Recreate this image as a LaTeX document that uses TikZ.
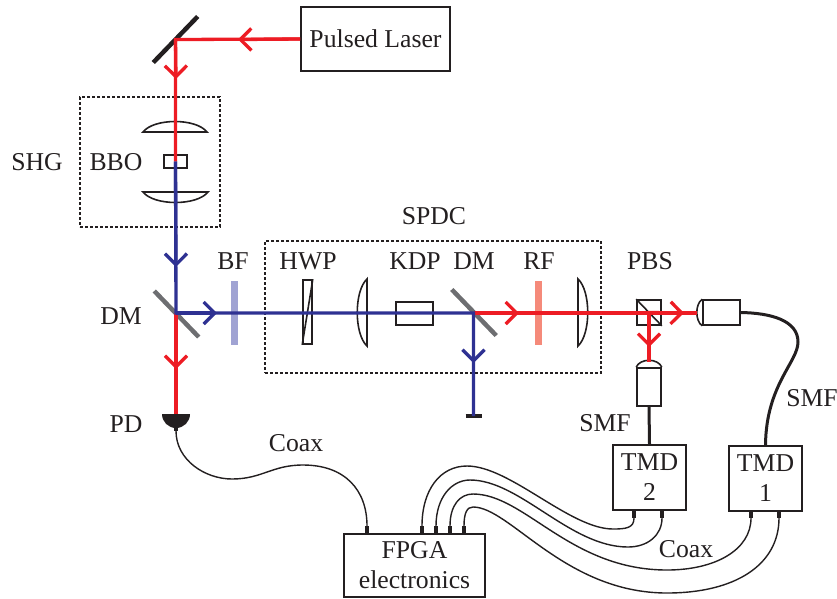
\documentclass[tikz,border=0pt]{standalone}
\usepackage{fontspec}
\setmainfont{Liberation Serif}
\usepackage{xcolor}
\usepackage{tikz}
\usetikzlibrary{arrows.meta, positioning}
\definecolor{redbeam}{RGB}{237,28,36}
\definecolor{bluebeam}{RGB}{46,49,146}
\definecolor{mirrorgrey}{RGB}{109,110,113}
\definecolor{bluefilter}{RGB}{160,163,211}
\definecolor{redfilter}{RGB}{245,138,122}
\definecolor{inkcolor}{RGB}{35,31,32}

\begin{document}
\begin{tikzpicture}[
    x=1pt, y=-1pt,
    every node/.style={font=\fontsize{25.7}{30}\selectfont, text=inkcolor, inner sep=0pt},
    box/.style={rectangle, draw=inkcolor, line width=1.6pt, align=center},
    part/.style={rectangle, draw=inkcolor, line width=1.6pt},
    dashbox/.style={rectangle, draw=inkcolor, line width=1.4pt, dash pattern=on 3pt off 2pt},
    mirror/.style={rectangle, fill=#1, minimum width=64pt, minimum height=4.5pt},
    filt/.style={rectangle, fill=#1, minimum width=7pt, minimum height=64pt},
    lens/.style={draw=inkcolor, line width=1.6pt},
    red/.style={draw=redbeam, line width=3.3pt},
    blue/.style={draw=bluebeam, line width=3.3pt},
    arrow/.style={-{Straight Barb[length=11pt,width=22pt,line width=3.3pt]}},
    fiber/.style={draw=inkcolor, line width=3pt},
    coax/.style={draw=inkcolor, line width=1.4pt},
    stub/.style={draw=inkcolor, line width=3.5pt}
]
\useasboundingbox (0,0) rectangle (837,598);

% Boxes
\node[box, minimum width=149pt, minimum height=64pt] (laser) at (375.5,39) {Pulsed Laser};
\node[box, minimum width=73pt, minimum height=65pt] (tmdb) at (649.5,477.5) {TMD\\2};
\node[box, minimum width=73pt, minimum height=65pt] (tmda) at (765.5,478.5) {TMD\\1};
\node[box, minimum width=141pt, minimum height=63pt] (fpga) at (414.5,565.5) {FPGA\\electronics};
\node[dashbox, minimum width=140pt, minimum height=130pt] (shg) at (150,162) {};
\node[dashbox, minimum width=336pt, minimum height=132pt] (spdc) at (433,307) {};

% Mirrors and filters
\node[mirror=inkcolor, rotate=46] (mirrortop) at (175.5,39.5) {};
\node[mirror=mirrorgrey, rotate=-46] (dmleft) at (176.5,314) {};
\node[mirror=mirrorgrey, rotate=-46] (dmright) at (474,312.5) {};
\node[filt=bluefilter] (bf) at (234.5,313) {};
\node[filt=redfilter] (rf) at (538.5,313) {};

% Crystals and cube
\node[part, minimum width=23pt, minimum height=13pt] (bbo) at (175.5,161.5) {};
\node[part, minimum width=9pt, minimum height=64pt] (hwp) at (307.5,312) {};
\draw[lens] (hwp.north east) -- (hwp.south west);
\node[part, minimum width=37pt, minimum height=23pt] (kdp) at (414.5,313.5) {};
\node[part, minimum width=24pt, minimum height=25pt] (pbs) at (649,312.5) {};
\draw[lens] (pbs.north west) -- (pbs.south east);

% Lenses
\draw[lens] (143,132) -- (207,132) .. controls (196,118) and (154,118) .. cycle;
\draw[lens] (143,192) -- (208,192) .. controls (197,206) and (154,206) .. cycle;
\draw[lens] (367,279) -- (367,346) .. controls (354,334) and (354,291) .. cycle;
\draw[lens] (578,279) -- (578,346) .. controls (591,334) and (591,291) .. cycle;

% Fiber couplers
\node[part, minimum width=24pt, minimum height=38pt] (couplerb) at (649,387) {};
\draw[lens] (couplerb.north west) .. controls (640,358) and (658,358) .. (couplerb.north east);
\node[part, minimum width=37pt, minimum height=25pt] (couplera) at (721.5,312.5) {};
\draw[lens] (couplera.north west) .. controls (695,304) and (695,321) .. (couplera.south west);

% Detector and beam stop
\coordinate (pd) at (176,414);
\coordinate (pdout) at (176,431);
\fill[inkcolor] (162,414) arc[start angle=180, end angle=360, x radius=14, y radius=-14] -- cycle;
\draw[stub] (pd) -- (pdout);
\coordinate (stop) at (473.5,416);
\draw[draw=inkcolor, line width=4pt] ([xshift=-8pt]stop) -- ([xshift=8pt]stop);

% Beam junctions and ends
\coordinate (splita) at (176,313);
\coordinate (splitb) at (473.5,313);
\coordinate (endh) at (697,313);
\coordinate (endi) at (649,362);

% Beam arrow points
\coordinate (tipa) at (238,39.5);
\coordinate (tipb) at (176,79);
\coordinate (tipc) at (176,267);
\coordinate (tipd) at (217,313);
\coordinate (tipe) at (176,369);
\coordinate (tipf) at (473.5,363);
\coordinate (tipg) at (519,313);
\coordinate (tiph) at (684,313);
\coordinate (tipi) at (649,347);

% Beams
\draw[red] (laser.west) -- (mirrortop.center) -- (bbo.center);
\draw[red, arrow] (laser.west) -- (tipa);
\draw[red, arrow] (mirrortop.center) -- (tipb);
\draw[red] (splita) -- (pd);
\draw[red, arrow] (splita) -- (tipe);
\draw[red] (splitb) -- (endh);
\draw[red, arrow] (splitb) -- (tipg);
\draw[red, arrow] (pbs.center) -- (tiph);
\draw[red] (pbs.center) -- (endi);
\draw[red, arrow] (pbs.center) -- (tipi);
\draw[blue] (bbo.center) -- (splita) -- (splitb) -- (stop);
\draw[blue, arrow] (bbo.center) -- (tipc);
\draw[blue, arrow] (splita) -- (tipd);
\draw[blue, arrow] (splitb) -- (tipf);

% Fibers
\draw[fiber] (couplerb.south) -- (tmdb.north);
\draw[fiber] (couplera.east) .. controls (770,313) and (798,320) .. (798,342) .. controls (798,362) and (766,385) .. (tmda.north);

% Connector ends
\coordinate (fpgac) at (367,526);
\coordinate (fpgaa) at (422,526);
\coordinate (fpgab) at (436,526);
\coordinate (fpgad) at (450,526);
\coordinate (fpgae) at (464,526);
\coordinate (tmdba) at (634,518);
\coordinate (tmdbb) at (662,518);
\coordinate (tmdaa) at (751,518);
\coordinate (tmdab) at (779,518);
\draw[stub] (fpgac) -- (fpgac |- fpga.north);
\draw[stub] (fpgaa) -- (fpgaa |- fpga.north);
\draw[stub] (fpgab) -- (fpgab |- fpga.north);
\draw[stub] (fpgad) -- (fpgad |- fpga.north);
\draw[stub] (fpgae) -- (fpgae |- fpga.north);
\draw[stub] (tmdba) -- (tmdba |- tmdb.south);
\draw[stub] (tmdbb) -- (tmdbb |- tmdb.south);
\draw[stub] (tmdaa) -- (tmdaa |- tmda.south);
\draw[stub] (tmdab) -- (tmdab |- tmda.south);

% Coax
\draw[coax] (pdout) .. controls (176,460) and (205,479) .. (232,479) .. controls (262,479) and (272,465) .. (303,465) .. controls (345,465) and (367,490) .. (fpgac);
\draw[coax] (fpgaa) .. controls (422,490) and (440,466) .. (467,466) .. controls (510,466) and (570,529) .. (613,529) .. controls (626,529) and (634,528) .. (tmdba);
\draw[coax] (fpgab) .. controls (436,497) and (452,480) .. (470,480) .. controls (520,480) and (570,547) .. (628,547) .. controls (648,547) and (662,535) .. (tmdbb);
\draw[coax] (fpgad) .. controls (450,505) and (460,494) .. (473,494) .. controls (525,494) and (570,570) .. (667,570) .. controls (715,570) and (751,550) .. (tmdaa);
\draw[coax] (fpgae) .. controls (464,513) and (467,507) .. (473,507) .. controls (510,507) and (565,593) .. (667,593) .. controls (735,593) and (779,565) .. (tmdab);

% Labels
\node (shglabel) at (37,162) {SHG};
\node (bbolabel) at (116,162) {BBO};
\node (spdclabel) at (434,216) {SPDC};
\node (bflabel) at (233,261) {BF};
\node (hwplabel) at (308,261) {HWP};
\node (kdplabel) at (415,261) {KDP};
\node (dmrlabel) at (474,261) {DM};
\node (rflabel) at (539,261) {RF};
\node (pbslabel) at (650,261) {PBS};
\node (dmllabel) at (121,316) {DM};
\node (pdlabel) at (126,424) {PD};
\node (coaxa) at (296,443) {Coax};
\node (coaxb) at (686,549) {Coax};
\node (smfb) at (605,423) {SMF};
\node (smfa) at (812,398) {SMF};

\end{tikzpicture}
\end{document}
